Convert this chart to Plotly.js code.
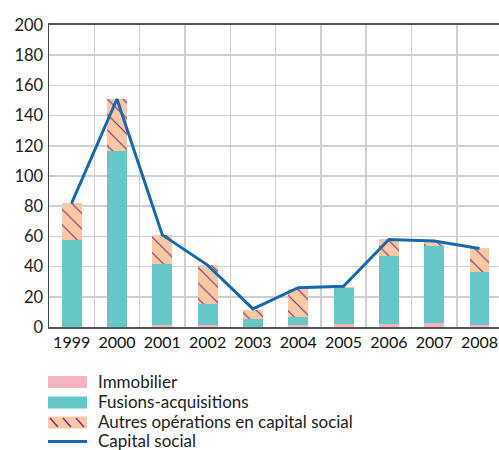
<!DOCTYPE html>
<html>
<head>
<meta charset="utf-8">
<script src="https://cdn.plot.ly/plotly-3.0.1.min.js"></script>
<style>html,body{margin:0;padding:0;background:#fff;}#chart{width:499px;height:450px;}</style>
</head>
<body>
<div id="chart"></div>
<script>
var years = ['1999','2000','2001','2002','2003','2004','2005','2006','2007','2008'];
var immobilier = [0.3, 0.3, 1, 1, 0.3, 1.5, 2, 2.2, 2.9, 1];
var fusions = [57.5, 116, 41, 14.2, 5, 5.3, 24, 45, 51, 35.5];
var autres = [24, 35, 19, 26, 6, 18.5, 0.8, 11, 3, 15.6];
var capital = [82, 151, 61, 41, 12, 26, 27, 58, 57, 52];
var yTicks = [0, 20, 40, 60, 80, 100, 120, 140, 160, 180, 200];
var seriesNames = ['Immobilier', 'Fusions-acquisitions', 'Autres opérations en capital social', 'Capital social'];

var cImmo = '#f7b3c0', cFus = '#66c7c7', cAut = '#f9c9a3', cHatch = '#7d2a80', cCap = '#1469b0';

var traces = [
  {type:'bar', name:seriesNames[0], x:years, y:immobilier, marker:{color:cImmo}, width:0.44},
  {type:'bar', name:seriesNames[1], x:years, y:fusions, marker:{color:cFus}, width:0.44},
  {type:'bar', name:seriesNames[2], x:years, y:autres, width:0.44,
   marker:{color:cAut, pattern:{shape:'\\', fgcolor:cHatch, bgcolor:cAut, size:11, solidity:0.1}}},
  {type:'scatter', mode:'lines', name:seriesNames[3], x:years, y:capital, line:{color:cCap, width:3}}
];

// plot area in pixels: x 49..499, y 25..327
function px(x){ return (x-49)/450; }
function py(y){ return (327-y)/302; }

var shapes = [];
var annotations = [];
var rowsY = [381.5, 401.5, 421, 440];
shapes.push({type:'rect', xref:'paper', yref:'paper', x0:px(48), x1:px(87), y0:py(376), y1:py(388), fillcolor:cImmo, line:{width:0}});
shapes.push({type:'rect', xref:'paper', yref:'paper', x0:px(48), x1:px(87), y0:py(396.5), y1:py(408.5), fillcolor:cFus, line:{width:0}});
shapes.push({type:'rect', xref:'paper', yref:'paper', x0:px(48), x1:px(87), y0:py(416.5), y1:py(428.5), fillcolor:cAut, line:{width:0}});
[50, 63, 76].forEach(function(x){
  shapes.push({type:'line', xref:'paper', yref:'paper', x0:px(x), x1:px(x+8), y0:py(418), y1:py(427), line:{color:cHatch, width:1.5}});
});
shapes.push({type:'line', xref:'paper', yref:'paper', x0:px(48), x1:px(87), y0:py(441.5), y1:py(441.5), line:{color:cCap, width:3}});
seriesNames.forEach(function(n, i){
  annotations.push({xref:'paper', yref:'paper', x:px(96), y:py(rowsY[i]), xanchor:'left', yanchor:'middle',
    text:n, showarrow:false, font:{size:17, color:'#222'}});
});

var layout = {
  width:499, height:450,
  margin:{l:49, r:0, t:25, b:123},
  paper_bgcolor:'#fff', plot_bgcolor:'#fff',
  barmode:'stack',
  font:{family:'Lato, "Open Sans", sans-serif', size:16, color:'#222'},
  showlegend:false,
  shapes:shapes,
  annotations:annotations,
  xaxis:{type:'category', range:[-0.5, 9.43], tickson:'boundaries', ticks:'', showgrid:true,
         gridcolor:'#cfcfcf', gridwidth:1.5, showline:true, linecolor:'#555', linewidth:2, mirror:true,
         tickangle:0, automargin:false, tickfont:{size:16, color:'#111'}, fixedrange:true},
  yaxis:{range:[0, 200], tickvals:yTicks, ticktext:yTicks.map(String), showgrid:true, gridcolor:'#cfcfcf',
         gridwidth:1.5, showline:true, linecolor:'#444', linewidth:1.5, ticks:'', zeroline:false,
         automargin:false, tickfont:{size:16.5, color:'#222'}, ticklabelstandoff:1, fixedrange:true}
};

Plotly.newPlot('chart', traces, layout, {displayModeBar:false, staticPlot:true});
</script>
</body>
</html>
